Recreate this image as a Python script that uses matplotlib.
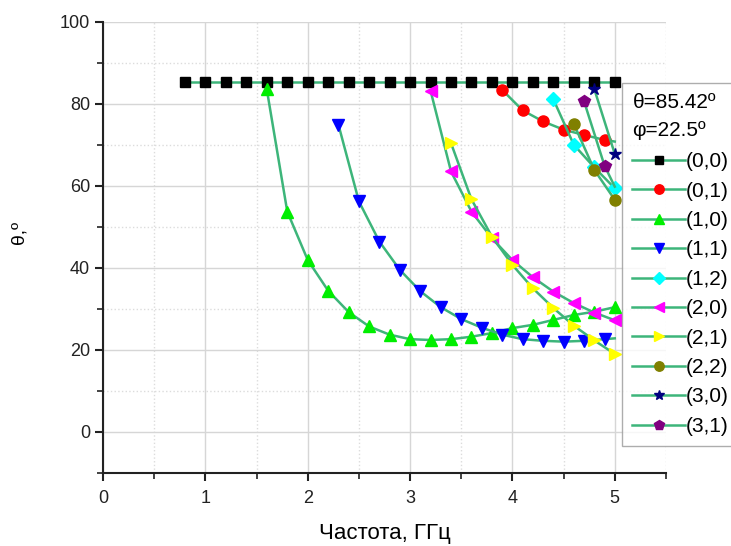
import matplotlib
matplotlib.use('Agg')
import matplotlib.pyplot as plt
from matplotlib.ticker import MultipleLocator

plt.rcParams['font.family'] = ['Liberation Sans', 'DejaVu Sans']

# Frequency (GHz) and theta (deg) for each mode
x_00 = [0.8, 1.0, 1.2, 1.4, 1.6, 1.8, 2.0, 2.2, 2.4, 2.6, 2.8, 3.0, 3.2, 3.4, 3.6,
        3.8, 4.0, 4.2, 4.4, 4.6, 4.8, 5.0]
y_00 = [85.42] * len(x_00)

x_01 = [3.9, 4.1, 4.3, 4.5, 4.7, 4.9, 5.0]
y_01 = [83.4, 78.4, 75.7, 73.7, 72.4, 71.2, 70.8]

x_10 = [1.6, 1.8, 2.0, 2.2, 2.4, 2.6, 2.8, 3.0, 3.2, 3.4, 3.6, 3.8, 4.0, 4.2, 4.4,
        4.6, 4.8, 5.0]
y_10 = [83.5, 53.7, 41.9, 34.4, 29.2, 25.7, 23.7, 22.6, 22.4, 22.6, 23.2, 24.1,
        25.3, 26.1, 27.3, 28.5, 29.3, 30.4]

x_11 = [2.3, 2.5, 2.7, 2.9, 3.1, 3.3, 3.5, 3.7, 3.9, 4.1, 4.3, 4.5, 4.7, 4.9, 5.0]
y_11 = [74.9, 56.2, 46.4, 39.5, 34.3, 30.4, 27.5, 25.4, 23.7, 22.6, 22.2, 22.0,
        22.2, 22.6, 22.8]

x_12 = [4.4, 4.6, 4.8, 5.0]
y_12 = [81.1, 70.0, 64.5, 59.4]

x_20 = [3.2, 3.4, 3.6, 3.8, 4.0, 4.2, 4.4, 4.6, 4.8, 5.0]
y_20 = [83.2, 63.5, 53.7, 47.2, 41.9, 37.7, 34.2, 31.4, 29.1, 27.2]

x_21 = [3.4, 3.6, 3.8, 4.0, 4.2, 4.4, 4.6, 4.8, 5.0]
y_21 = [70.4, 56.7, 47.6, 40.7, 35.0, 30.2, 25.9, 22.3, 19.0]

x_22 = [4.6, 4.8, 5.0]
y_22 = [75.1, 63.9, 56.6]

x_30 = [4.8, 5.0]
y_30 = [83.6, 67.8]

x_31 = [4.7, 4.9, 5.0]
y_31 = [80.6, 64.9, 59.8]

labels = ['(0,0)', '(0,1)', '(1,0)', '(1,1)', '(1,2)', '(2,0)', '(2,1)', '(2,2)',
          '(3,0)', '(3,1)']

series = [
    (x_00, y_00, 's', 'black', 6.5, None),
    (x_01, y_01, 'o', 'red', 8, slice(0, -1)),
    (x_10, y_10, '^', '#00ee00', 8.5, None),
    (x_11, y_11, 'v', '#0000ff', 8.5, slice(0, -1)),
    (x_12, y_12, 'D', '#00ffff', 7, None),
    (x_20, y_20, '<', '#ff00ff', 8.5, None),
    (x_21, y_21, '>', '#ffff00', 8.5, None),
    (x_22, y_22, 'o', '#808000', 8, None),
    (x_30, y_30, '*', '#000080', 9, None),
    (x_31, y_31, 'p', '#800080', 8.5, slice(0, -1)),
]

line_color = '#3db57a'

fig = plt.figure(figsize=(7.31, 5.46), dpi=100)
ax = fig.add_axes([0.141, 0.134, 0.770, 0.826])

handles = []
for (xs, ys, m, c, ms, every), lab in zip(series, labels):
    h, = ax.plot(xs, ys, color=line_color, lw=1.8, marker=m, markersize=ms,
                 markerfacecolor=c, markeredgecolor=c, markevery=every,
                 label=lab, clip_on=False, zorder=3)
    handles.append(h)

ax.set_xlim(0, 5.5)
ax.set_ylim(-10, 100)
ax.xaxis.set_major_locator(MultipleLocator(1))
ax.xaxis.set_minor_locator(MultipleLocator(0.5))
ax.yaxis.set_major_locator(MultipleLocator(20))
ax.yaxis.set_minor_locator(MultipleLocator(10))
ax.set_yticks([0, 20, 40, 60, 80, 100])

ax.grid(which='major', color='#d6d6d6', lw=1.0, ls='-')
ax.grid(which='minor', color='#dcdcdc', lw=1.0, ls=':')
ax.set_axisbelow(True)

for s in ['top', 'right']:
    ax.spines[s].set_visible(False)
for s in ['left', 'bottom']:
    ax.spines[s].set_linewidth(1.5)
    ax.spines[s].set_color('#222222')

ax.tick_params(which='major', direction='out', length=6, width=1.5,
               labelsize=13, colors='#222222')
ax.tick_params(axis='x', which='major', pad=6)
ax.tick_params(which='minor', direction='out', length=4, width=1.2,
               colors='#222222')

ax.set_xlabel('Частота, ГГц', fontsize=16, labelpad=12)
ax.set_ylabel('θ,º', fontsize=14)
ax.yaxis.set_label_coords(-0.135, 0.532)

leg = fig.legend(handles=handles, loc='upper left',
                 bbox_to_anchor=(0.851, 0.848), fontsize=15,
                 title='θ=85.42º\nφ=22.5º', title_fontsize=15,
                 alignment='left', handlelength=2.5, handletextpad=0.05,
                 labelspacing=0.5, borderpad=0.5, borderaxespad=0,
                 markerscale=0.85,
                 frameon=True, fancybox=False, edgecolor='#999999')
leg.get_frame().set_linewidth(1.0)
leg.get_title().set_linespacing(1.55)
leg._legend_box.sep = 9

fig.savefig('out.png', dpi=100)
